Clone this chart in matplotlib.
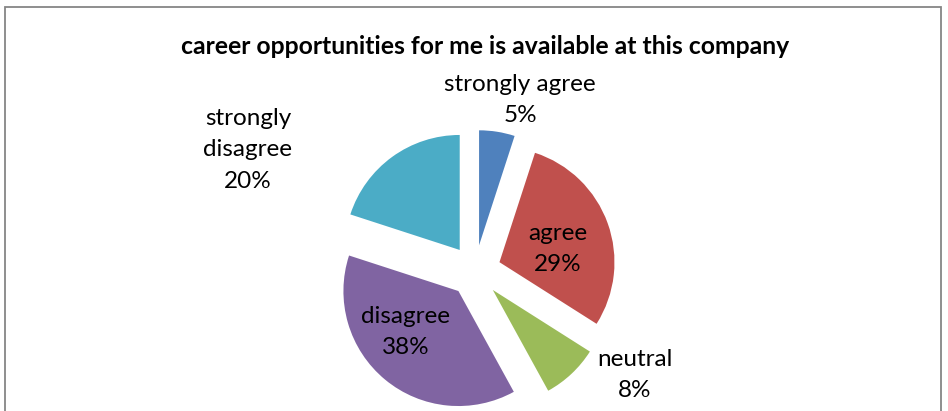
import matplotlib
matplotlib.use("Agg")
import matplotlib.pyplot as plt
from matplotlib.patches import Rectangle

# survey answers, clockwise from 12 o'clock
answers = ["strongly agree", "agree", "neutral", "disagree", "strongly\ndisagree"]
shares = [5, 29, 8, 38, 20]
colors = ["#4F81BD", "#C0504D", "#9BBB59", "#8064A2", "#4BACC6"]
title = "career opportunities for me is available at this company"

# where each label sits (pixel coords, y from top)
label_pos = [(520, 100), (558, 249), (635, 375), (406, 332), (248, 150)]

W, H = 948, 411
fig = plt.figure(figsize=(W / 100, H / 100), dpi=100)
ax = fig.add_axes([0, 0, 1, 1])

cx, cy, r = 475, H - 271, 115
# explode offset is in data units here (pixels)
ax.pie(shares, colors=colors, startangle=90, counterclock=False,
       center=(cx, cy), radius=r, explode=[26] * len(shares),
       wedgeprops=dict(linewidth=0))
ax.set_xlim(0, W)
ax.set_ylim(0, H)
ax.set_aspect("equal")
ax.axis("off")

font = "Lato"
for name, val, (x, y) in zip(answers, shares, label_pos):
    ax.text(x, H - y, f"{name}\n{val}%", ha="center", va="center",
            fontsize=17.5, family=font, linespacing=1.62, color="black")

fig.text(485 / W, 1 - 47 / H, title, ha="center", va="center",
         fontsize=17.8, fontweight="bold", family=font)

# chart frame, bottom edge runs off the image
fig.patches.append(Rectangle((5 / W, -0.1), 936 / W, 1.1 - 7 / H,
                             transform=fig.transFigure, fill=False,
                             edgecolor="#868686", linewidth=1.3))

fig.savefig("out.png", dpi=100)
